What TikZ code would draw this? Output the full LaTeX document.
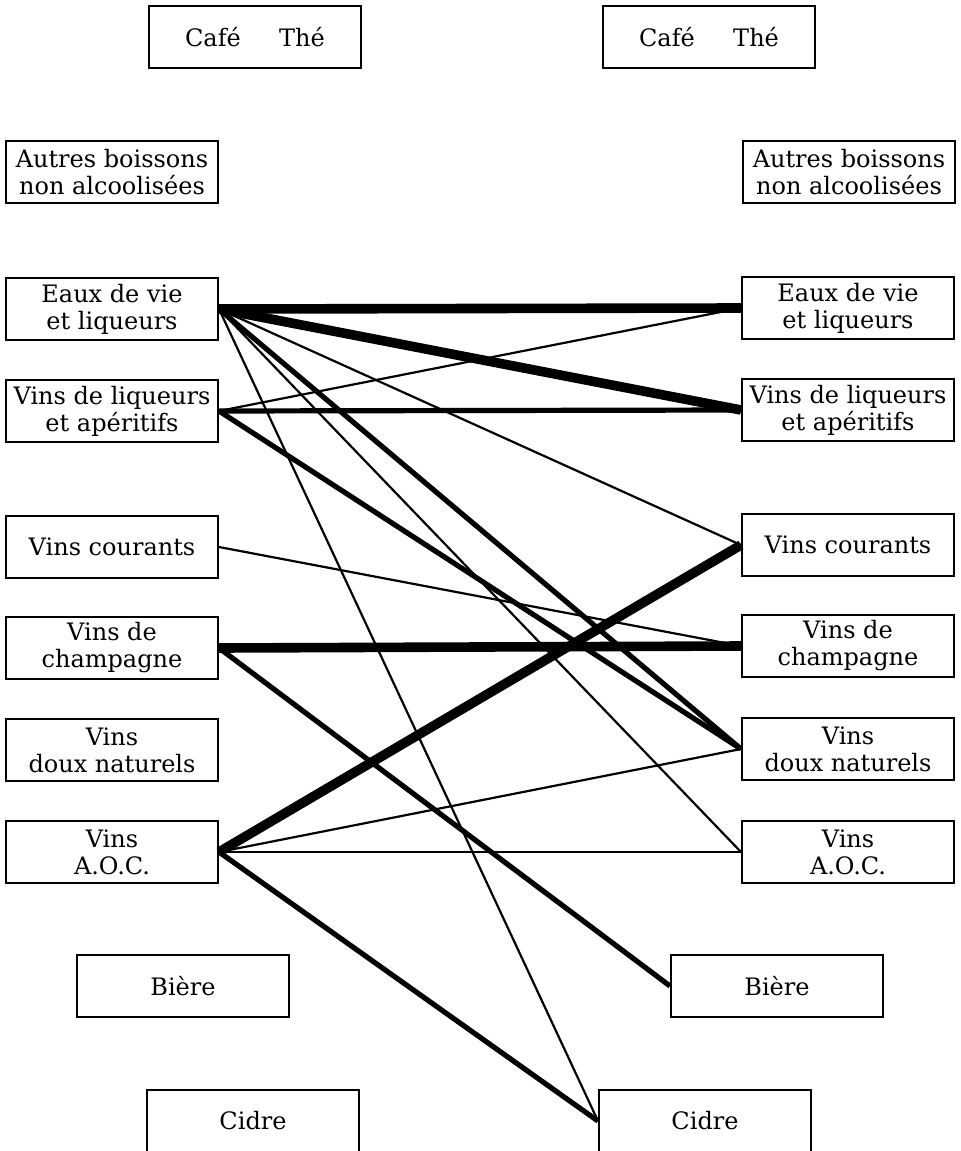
\documentclass[tikz,border=0pt]{standalone}
\usepackage{fontspec}
\setmainfont{DejaVu Serif}
\usetikzlibrary{positioning}

\tikzset{
    box/.style={draw, line width=1pt, minimum width=106pt, minimum height=31pt,
        inner sep=2pt, align=center, font=\fontsize{12}{13.5}\selectfont},
    thin link/.style={line width=1.1pt},
    mid link/.style={line width=2.6pt},
    heavy link/.style={line width=4.8pt}
}

\begin{document}
\begin{tikzpicture}[x=0.5pt, y=-0.5pt]
        \useasboundingbox (0,0) rectangle (960,1151);

        % left column
        \node[box] (cafeL) at (255,37) {Café\hspace{1.6em}Thé};
        \node[box] (autresL) at (112,172) {Autres boissons\\non alcoolisées};
        \node[box] (eauxL) at (112,309) {Eaux de vie\\et liqueurs};
        \node[box] (liqL) at (112,411) {Vins de liqueurs\\et apéritifs};
        \node[box] (courL) at (112,547) {Vins courants};
        \node[box] (champL) at (112,648) {Vins de\\champagne};
        \node[box] (douxL) at (112,750) {Vins\\doux naturels};
        \node[box] (aocL) at (112,852) {Vins\\A.O.C.};
        \node[box] (biereL) at (183,986) {Bière};
        \node[box] (cidreL) at (253,1121) {Cidre};

        % right column
        \node[box] (cafeR) at (709,37) {Café\hspace{1.6em}Thé};
        \node[box] (autresR) at (849,172) {Autres boissons\\non alcoolisées};
        \node[box] (eauxR) at (848,308) {Eaux de vie\\et liqueurs};
        \node[box] (liqR) at (848,410) {Vins de liqueurs\\et apéritifs};
        \node[box] (courR) at (848,545) {Vins courants};
        \node[box] (champR) at (848,646) {Vins de\\champagne};
        \node[box] (douxR) at (848,749) {Vins\\doux naturels};
        \node[box] (aocR) at (848,852) {Vins\\A.O.C.};
        \node[box] (biereR) at (777,986) {Bière};
        \node[box] (cidreR) at (705,1121) {Cidre};

        \draw
            (eauxL.east) edge[heavy link] (eauxR.west)
            (eauxL.east) edge[heavy link] (liqR.west)
            (eauxL.east) edge[thin link] (courR.west)
            (eauxL.east) edge[mid link] (douxR.west)
            (eauxL.east) edge[thin link] (aocR.west)
            (eauxL.east) edge[thin link] (cidreR.west)

            (liqL.east) edge[thin link] (eauxR.west)
            (liqL.east) edge[mid link] (liqR.west)
            (liqL.east) edge[mid link] (douxR.west)

            (courL.east) edge[thin link] (champR.west)

            (champL.east) edge[heavy link] (champR.west)
            (champL.east) edge[mid link] (biereR.west)

            (aocL.east) edge[heavy link] (courR.west)
            (aocL.east) edge[thin link] (douxR.west)
            (aocL.east) edge[thin link] (aocR.west)
            (aocL.east) edge[mid link] (cidreR.west);
    \end{tikzpicture}
\end{document}
